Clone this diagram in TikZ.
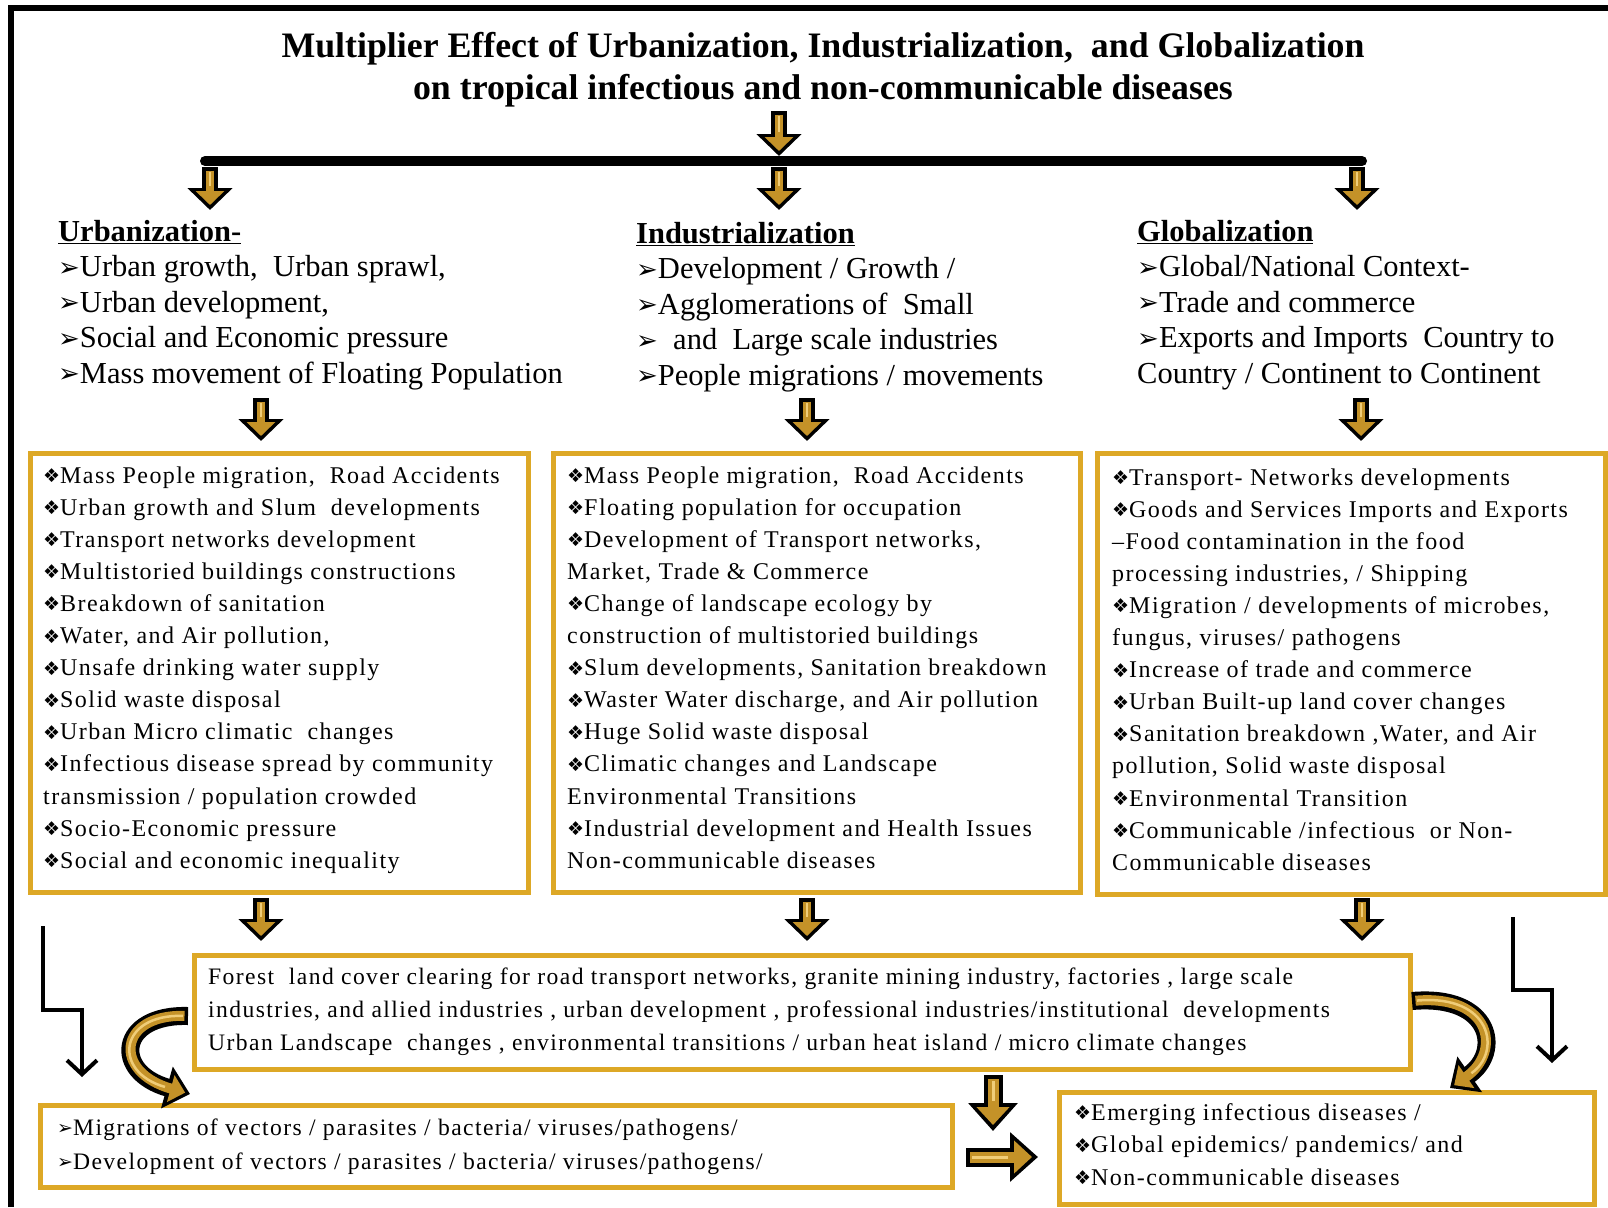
\documentclass[tikz,border=0pt]{standalone}
\usepackage{fontspec}
\setmainfont{Liberation Serif}
\newfontfamily\bodyf[LetterSpace=6]{Liberation Serif}
\newfontfamily\symf{DejaVu Sans}
\usetikzlibrary{arrows.meta}
\definecolor{boxgold}{RGB}{221,168,38}
\definecolor{arrgold}{RGB}{196,146,40}
\definecolor{arrlight}{RGB}{240,205,120}
\newcommand\db{\raisebox{0.5pt}{\symf\fontsize{19}{19}\selectfont ❖}}
\newcommand\ab{\raisebox{0.5pt}{\symf\fontsize{26}{26}\selectfont ➢}}
\newcommand\abs{\raisebox{0.5pt}{\symf\fontsize{19}{19}\selectfont ➢}}
\newcommand\hd[1]{\underline{\textbf{#1}}}
\newcommand\lnx[1]{\hbox{#1}}
\tikzset{
  gbox/.style={draw=boxgold, line width=4.5, inner sep=0, anchor=north west, fill=white},
  txt/.style={anchor=base west, inner sep=0},
  arrout/.style={line width=16, black, -{Triangle[length=22pt,width=44pt]}},
  arrin/.style={line width=8, arrgold, shorten <=3.5pt, shorten >=5pt, -{Triangle[length=14pt,width=28pt]}},
  arrhi/.style={line width=2.5, arrlight, shorten <=5pt, shorten >=24pt},
  barrout/.style={line width=19, black, -{Triangle[length=28pt,width=48pt]}},
  barrin/.style={line width=11, arrgold, shorten <=4pt, shorten >=6pt, -{Triangle[length=18pt,width=32pt]}},
  barrhi/.style={line width=3, arrlight, shorten <=6pt, shorten >=30pt},
  curvout/.style={line width=18, black, -{Triangle[length=24pt,width=42pt]}},
  curvin/.style={line width=10, arrgold, shorten <=3.5pt, shorten >=5pt, -{Triangle[length=15pt,width=27pt]}},
  curvhi/.style={line width=2.5, arrlight, shorten <=5pt, shorten >=26pt},
  larrow/.style={line width=4, black, line join=miter, -{Straight Barb[length=14pt,width=30pt]}}
}
\newcommand\garrow[2]{\draw[arrout] (#1) -- (#2); \draw[arrin] (#1) -- (#2); \draw[arrhi] (#1) -- (#2);}
\newcommand\bgarrow[2]{\draw[barrout] (#1) -- (#2); \draw[barrin] (#1) -- (#2); \draw[barrhi] (#1) -- (#2);}
\newcommand\bodyset{\bodyf\fontsize{24}{32.1}\selectfont}
\begin{document}
\begin{tikzpicture}[x=1pt,y=-1pt]
\useasboundingbox (0,0) rectangle (1608,1207);
\fill[white] (0,0) rectangle (1608,1207);
% frame
\draw[line width=6, line join=miter] (11,1207) -- (11,8) -- (1608,8);

% title
\node[anchor=base, inner sep=0] (ti1) at (823,57) {\bfseries\fontsize{35.8}{42}\selectfont Multiplier Effect\ of Urbanization, Industrialization,\ \ and Globalization};
\node[anchor=base, inner sep=0] (ti2) at (823,99) {\bfseries\fontsize{35.8}{42}\selectfont on tropical infectious and non-communicable diseases};

% top arrow and bar
\coordinate (ta1) at (779,111); \coordinate (ta2) at (779,156);
\garrow{ta1}{ta2}
\coordinate (barL) at (205,161); \coordinate (barR) at (1362,161);
\draw[line width=10, line cap=round] (barL) -- (barR);
\coordinate (da1) at (210,167); \coordinate (db1) at (210,210);
\coordinate (da2) at (779,167); \coordinate (db2) at (779,210);
\coordinate (da3) at (1357,167); \coordinate (db3) at (1357,210);
\garrow{da1}{db1}\garrow{da2}{db2}\garrow{da3}{db3}

% headings
\node[txt] (h1) at (58,241) {\fontsize{30.5}{35.6}\selectfont\vtop{
\lnx{\hd{Urbanization-}}
\lnx{\ab Urban growth,\ \ Urban sprawl,}
\lnx{\ab Urban development,}
\lnx{\ab Social and Economic pressure}
\lnx{\ab Mass movement of Floating Population}}};
\node[txt] (h2) at (636,243) {\fontsize{30.5}{35.6}\selectfont\vtop{
\lnx{\hd{Industrialization}}
\lnx{\ab Development / Growth /}
\lnx{\ab Agglomerations of\ \ Small}
\lnx{\ab\ \ and\ \ Large scale industries}
\lnx{\ab People migrations / movements}}};
\node[txt] (h3) at (1137,241) {\fontsize{30.5}{35.6}\selectfont\vtop{
\lnx{\hd{Globalization}}
\lnx{\ab Global/National Context-}
\lnx{\ab Trade and commerce}
\lnx{\ab Exports and Imports\ \ Country to}
\lnx{Country / Continent to Continent}}};

\coordinate (ha1) at (261,398); \coordinate (hb1) at (261,441);
\coordinate (ha2) at (807,398); \coordinate (hb2) at (807,441);
\coordinate (ha3) at (1361,398); \coordinate (hb3) at (1361,441);
\garrow{ha1}{hb1}\garrow{ha2}{hb2}\garrow{ha3}{hb3}

% boxes
\node[gbox, minimum width=498, minimum height=439] (b1) at (28,451) {};
\node[gbox, minimum width=527, minimum height=439] (b2) at (551,451) {};
\node[gbox, minimum width=508, minimum height=441] (b3) at (1095,451) {};

\node[txt] (t1) at (43,483) {\bodyset\vtop{
\lnx{\db Mass People migration,\ \ Road Accidents}
\lnx{\db Urban growth and Slum\ \ developments}
\lnx{\db Transport networks development}
\lnx{\db Multistoried buildings constructions}
\lnx{\db Breakdown of sanitation}
\lnx{\db Water, and Air pollution,}
\lnx{\db Unsafe drinking water supply}
\lnx{\db Solid waste disposal}
\lnx{\db Urban Micro climatic\ \ changes}
\lnx{\db Infectious disease spread by community}
\lnx{transmission / population crowded}
\lnx{\db Socio-Economic pressure}
\lnx{\db Social and economic inequality}}};

\node[txt] (t2) at (567,483) {\bodyset\vtop{
\lnx{\db Mass People migration,\ \ Road Accidents}
\lnx{\db Floating population for occupation}
\lnx{\db Development of Transport networks,}
\lnx{Market, Trade \& Commerce}
\lnx{\db Change of landscape ecology by}
\lnx{construction of multistoried buildings}
\lnx{\db Slum developments, Sanitation breakdown}
\lnx{\db Waster Water discharge, and Air pollution}
\lnx{\db Huge Solid waste disposal}
\lnx{\db Climatic changes and Landscape}
\lnx{Environmental Transitions}
\lnx{\db Industrial development and Health Issues}
\lnx{Non-communicable diseases}}};

\node[txt] (t3) at (1112,485) {\bodyset\vtop{
\lnx{\db Transport- Networks developments}
\lnx{\db Goods and Services Imports and Exports}
\lnx{–Food contamination in the food}
\lnx{processing industries, / Shipping}
\lnx{\db Migration / developments of microbes,}
\lnx{fungus, viruses/ pathogens}
\lnx{\db Increase of trade and commerce}
\lnx{\db Urban Built-up land cover changes}
\lnx{\db Sanitation breakdown ,Water, and Air}
\lnx{pollution, Solid waste disposal}
\lnx{\db Environmental Transition}
\lnx{\db Communicable /infectious\ \ or Non-}
\lnx{Communicable diseases}}};

\coordinate (ba1) at (261,898); \coordinate (bb1) at (261,941);
\coordinate (ba2) at (807,898); \coordinate (bb2) at (807,941);
\coordinate (ba3) at (1362,898); \coordinate (bb3) at (1362,941);
\garrow{ba1}{bb1}\garrow{ba2}{bb2}\garrow{ba3}{bb3}

% forest box
\node[gbox, minimum width=1216, minimum height=114] (bf) at (192,953) {};
\node[txt] (tf) at (208,984) {\bodyf\fontsize{23.6}{33}\selectfont\vtop{
\lnx{Forest\ \ land cover clearing for road transport networks, granite mining industry, factories , large scale}
\lnx{industries, and allied industries , urban development , professional industries/institutional\ \ developments}
\lnx{Urban Landscape\ \ changes , environmental transitions / urban heat island / micro climate changes}}};

% bottom boxes
\node[gbox, minimum width=912, minimum height=82] (bl) at (38,1103) {};
\node[txt] (tl) at (57,1135) {\bodyf\fontsize{23.6}{34}\selectfont\vtop{
\lnx{\abs Migrations of vectors / parasites / bacteria/ viruses/pathogens/}
\lnx{\abs Development of vectors / parasites / bacteria/ viruses/pathogens/}}};
\node[gbox, minimum width=535, minimum height=112] (br) at (1057,1090) {};
\node[txt] (tr) at (1074,1120) {\bodyf\fontsize{24}{32.5}\selectfont\vtop{
\lnx{\db Emerging infectious diseases /}
\lnx{\db Global epidemics/ pandemics/ and}
\lnx{\db Non-communicable diseases}}};

% bottom middle arrows
\coordinate (ma1) at (993,1075); \coordinate (mb1) at (993,1131);
\bgarrow{ma1}{mb1}
\coordinate (ra1) at (966,1157); \coordinate (rb1) at (1038,1157);
\bgarrow{ra1}{rb1}

% curved arrows
\coordinate (cl1) at (188,1016); \coordinate (cl2) at (190,1094);
\draw[curvout] (cl1) .. controls (118,1014) and (112,1072) .. (cl2);
\draw[curvin] (cl1) .. controls (118,1014) and (112,1072) .. (cl2);
\draw[curvhi] (cl1) .. controls (118,1014) and (112,1072) .. (cl2);
\coordinate (cr1) at (1412,1001); \coordinate (cr2) at (1450,1088);
\draw[curvout] (cr1) .. controls (1492,994) and (1502,1052) .. (cr2);
\draw[curvin] (cr1) .. controls (1492,994) and (1502,1052) .. (cr2);
\draw[curvhi] (cr1) .. controls (1492,994) and (1502,1052) .. (cr2);

% black L arrows
\coordinate (la1) at (43,926); \coordinate (la2) at (82,1077);
\draw[larrow] (la1) -- (43,1010) -- (82,1010) -- (la2);
\coordinate (lr1) at (1513,917); \coordinate (lr2) at (1552,1063);
\draw[larrow] (lr1) -- (1513,990) -- (1552,990) -- (lr2);
\end{tikzpicture}
\end{document}
